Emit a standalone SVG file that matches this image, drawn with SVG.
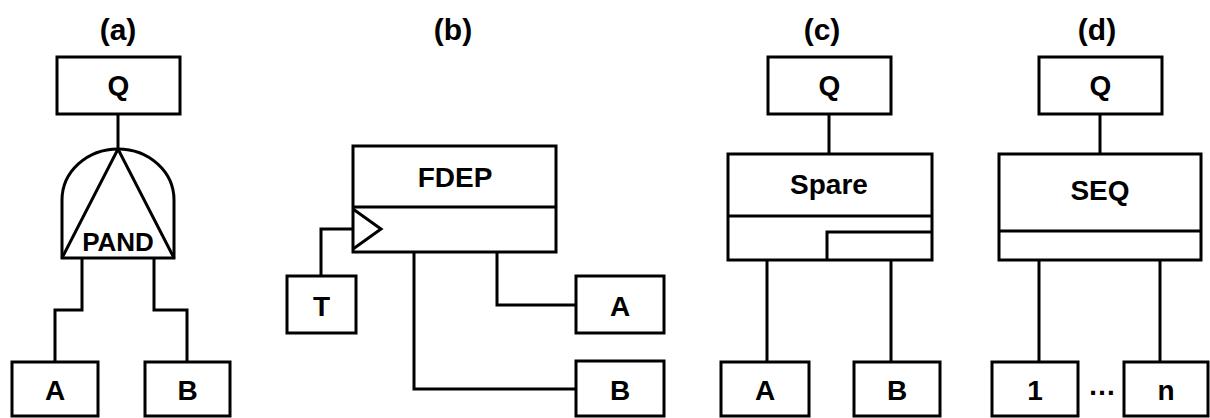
<svg xmlns="http://www.w3.org/2000/svg" width="1210" height="418" viewBox="0 0 1210 418">
  <style>
    .box { fill: #fff; stroke: #000; stroke-width: 3; }
    .ln { fill: none; stroke: #000; stroke-width: 3; }
    text { font-family: "Liberation Sans", Arial, sans-serif; font-weight: bold; fill: #000; text-anchor: middle; }
    .t { font-size: 28px; }
    .cap { font-size: 30px; }
  </style>
  <rect width="1210" height="418" fill="#fff"/>

  <!-- panel captions -->
  <g id="captions">
    <text class="cap" x="118" y="40">(a)</text>
    <text class="cap" x="453" y="40">(b)</text>
    <text class="cap" x="822" y="40">(c)</text>
    <text class="cap" x="1097" y="40">(d)</text>
  </g>

  <!-- connectors -->
  <g id="connectors">
    <!-- (a) -->
    <path class="ln" d="M118 114 V149"/>
    <path class="ln" d="M82 258 V310 H55 V362"/>
    <path class="ln" d="M154 258 V310 H187 V362"/>
    <!-- (b) -->
    <path class="ln" d="M353 229 H321 V276"/>
    <path class="ln" d="M497 252 V305 H576"/>
    <path class="ln" d="M414 252 V389 H576"/>
    <!-- (c) -->
    <path class="ln" d="M829 114 V154"/>
    <path class="ln" d="M767 260 V362"/>
    <path class="ln" d="M891 260 V362"/>
    <!-- (d) -->
    <path class="ln" d="M1100 114 V154"/>
    <path class="ln" d="M1039 260 V362"/>
    <path class="ln" d="M1160 260 V362"/>
  </g>

  <!-- (a) PAND -->
  <g id="a-q">
    <rect class="box" x="57" y="57" width="123" height="57"/>
    <text class="t" x="118.5" y="95">Q</text>
  </g>
  <g id="a-pand">
    <path class="box" d="M62 258 V200 A56 51 0 0 1 174 200 V258 Z"/>
    <path class="ln" d="M62 258 L118 149 L174 258"/>
    <text x="118" y="251" style="font-size:26px">PAND</text>
  </g>
  <g id="a-a">
    <rect class="box" x="12" y="362" width="86" height="54"/>
    <text class="t" x="55" y="400">A</text>
  </g>
  <g id="a-b">
    <rect class="box" x="145" y="362" width="85" height="54"/>
    <text class="t" x="187.5" y="400">B</text>
  </g>

  <!-- (b) FDEP -->
  <g id="b-fdep">
    <rect class="box" x="353" y="146" width="203" height="106"/>
    <path class="ln" d="M353 207 H556"/>
    <path class="ln" d="M353 209 L381 229 L353 249"/>
    <text class="t" x="455" y="187">FDEP</text>
  </g>
  <g id="b-t">
    <rect class="box" x="287" y="276" width="69" height="57"/>
    <text class="t" x="321.5" y="316">T</text>
  </g>
  <g id="b-a">
    <rect class="box" x="576" y="276" width="88" height="57"/>
    <text class="t" x="620" y="316">A</text>
  </g>
  <g id="b-b">
    <rect class="box" x="576" y="361" width="88" height="55"/>
    <text class="t" x="620" y="400">B</text>
  </g>

  <!-- (c) Spare -->
  <g id="c-q">
    <rect class="box" x="768" y="57" width="123" height="57"/>
    <text class="t" x="829.5" y="95">Q</text>
  </g>
  <g id="c-spare">
    <rect class="box" x="728" y="154" width="204" height="106"/>
    <path class="ln" d="M728 216 H932"/>
    <path class="ln" d="M827 260 V232 H932"/>
    <text class="t" x="829" y="194">Spare</text>
  </g>
  <g id="c-a">
    <rect class="box" x="721" y="362" width="88" height="54"/>
    <text class="t" x="765" y="400">A</text>
  </g>
  <g id="c-b">
    <rect class="box" x="854" y="362" width="86" height="54"/>
    <text class="t" x="897" y="400">B</text>
  </g>

  <!-- (d) SEQ -->
  <g id="d-q">
    <rect class="box" x="1039" y="57" width="123" height="57"/>
    <text class="t" x="1100.5" y="95">Q</text>
  </g>
  <g id="d-seq">
    <rect class="box" x="999" y="154" width="202" height="106"/>
    <path class="ln" d="M999 231 H1201"/>
    <text class="t" x="1100" y="200">SEQ</text>
  </g>
  <g id="d-1">
    <rect class="box" x="992" y="362" width="86" height="54"/>
    <text class="t" x="1035" y="400">1</text>
  </g>
  <text class="t" x="1102" y="395">…</text>
  <g id="d-n">
    <rect class="box" x="1124" y="362" width="84" height="54"/>
    <text class="t" x="1166" y="400">n</text>
  </g>
</svg>
